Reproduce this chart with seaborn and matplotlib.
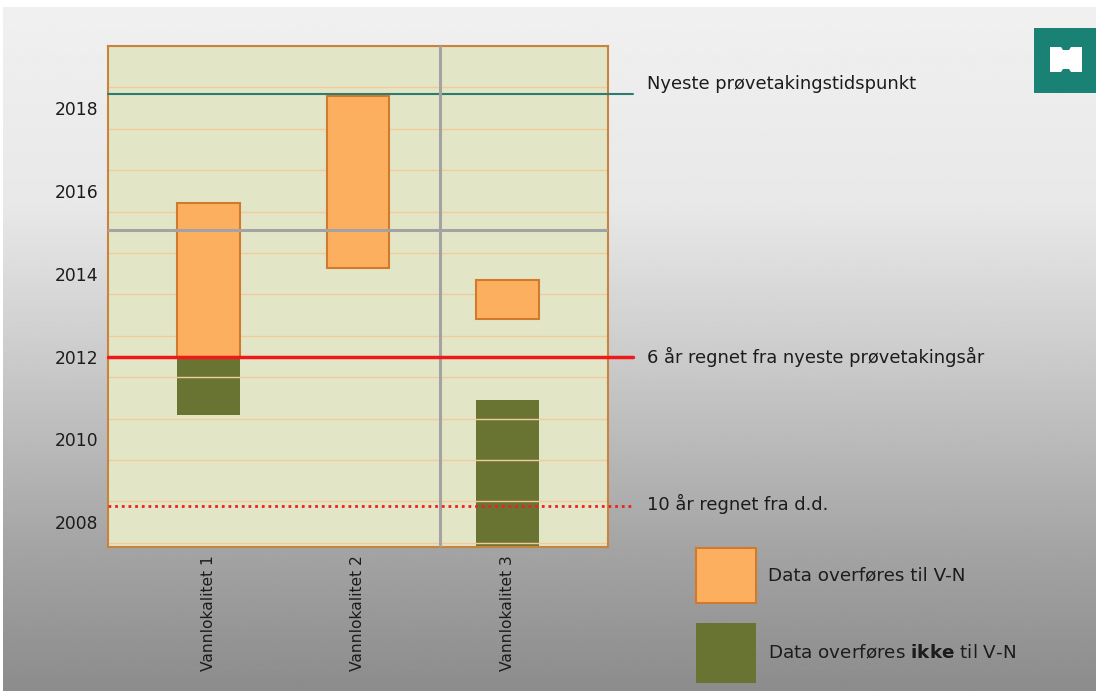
import numpy as np
import matplotlib
matplotlib.use("Agg")
import matplotlib.pyplot as plt
import matplotlib.transforms as mtransforms
from matplotlib.patches import Rectangle, Polygon
import seaborn as sns

# ---------------- data ----------------
categories = ["Vannlokalitet 1", "Vannlokalitet 2", "Vannlokalitet 3"]
transfer_start = [2012.0, 2014.15, 2012.9]
transfer_end = [2015.7, 2018.3, 2013.85]
no_transfer_cats = ["Vannlokalitet 1", "Vannlokalitet 3"]
no_transfer_start = [2010.6, 2007.0]
no_transfer_end = [2012.0, 2010.95]
latest_sample = 2018.35
six_years = 2012.0
ten_years = 2008.4
ref_year = 2015.05
ref_cat = 1.55
year_ticks = [2008, 2010, 2012, 2014, 2016, 2018]
line_labels = ["Nyeste prøvetakingstidspunkt",
               "6 år regnet fra nyeste prøvetakingsår",
               "10 år regnet fra d.d."]
legend_labels = ["Data overføres til V-N",
                 "Data overføres $\\mathbf{ikke}$ til V-N"]

ORANGE = "#FDAF60"
ORANGE_EDGE = "#D07A2E"
GREEN = "#6A7432"
TEXT = "#1C1C1C"

W, H = 1096, 691

sns.set_theme(style="white")
plt.rcParams["font.family"] = ["DejaVu Sans"]
plt.rcParams["mathtext.fontset"] = "dejavusans"

fig = plt.figure(figsize=(W / 100, H / 100), dpi=100)
fig.patch.set_facecolor("white")

# background gradient
bg = fig.add_axes([3 / W, 0, 1 - 3 / W, 1 - 7 / H], zorder=-10)
g = np.interp(np.linspace(0, 1, 400), [0, 0.29, 0.5, 0.8, 1.0],
              [240, 232, 205, 163, 140]) / 255.0
bg.imshow(np.repeat(g[:, None], 2, axis=1), cmap="gray", vmin=0, vmax=1,
          aspect="auto", interpolation="bilinear")
bg.set_axis_off()

ax = fig.add_axes([108 / W, 1 - 547 / H, 500 / W, 501 / H])
ax.set_facecolor("#E2E6C6")

sns.barplot(x=no_transfer_cats,
            y=np.subtract(no_transfer_end, no_transfer_start),
            bottom=no_transfer_start, order=categories, color=GREEN,
            saturation=1, width=0.42, linewidth=0, errorbar=None,
            ax=ax, zorder=1)
sns.barplot(x=categories,
            y=np.subtract(transfer_end, transfer_start),
            bottom=transfer_start, order=categories, color=ORANGE,
            saturation=1, width=0.42, edgecolor=ORANGE_EDGE, linewidth=1.5,
            errorbar=None, ax=ax, zorder=2)

ax.set_xlim(-0.667, 2.667)
ax.set_ylim(2007.4, 2019.5)
ax.set_yticks(year_ticks)
ax.set_yticklabels([str(y) for y in year_ticks], fontsize=12.3, color=TEXT)
ax.set_yticks(np.arange(2007.5, 2020, 1.0), minor=True)
ax.set_xticks(range(len(categories)))
ax.set_xticklabels(categories, rotation=90, fontsize=11.2, color=TEXT,
                   va="top")
ax.tick_params(which="both", length=0)
ax.tick_params(axis="y", pad=7)
ax.tick_params(axis="x", pad=6)
ax.set_axisbelow("line")
ax.grid(which="minor", axis="y", color="#F2CB9A", lw=1)
ax.grid(which="major", visible=False)
ax.set_xlabel("")
ax.set_ylabel("")
for s in ax.spines.values():
    s.set_visible(True)
    s.set_color("#C8843C")
    s.set_linewidth(1.5)

# reference lines
ax.axhline(latest_sample, xmin=0, xmax=1.05, color="#2E7B70", lw=1.5,
           clip_on=False, zorder=4)
ax.axhline(ref_year, color="#A3A3A3", lw=2.2, zorder=4)
ax.axvline(ref_cat, color="#A3A3A3", lw=2.2, zorder=4)
ax.axhline(six_years, xmin=0, xmax=1.05, color="#F01818", lw=2.5,
           clip_on=False, zorder=5)
ax.axhline(ten_years, xmin=0, xmax=1.05, color="#F02020", lw=2,
           ls=(0, (1, 1.4)), clip_on=False, zorder=5)

blend = mtransforms.blended_transform_factory(ax.transAxes, ax.transData)
for txt, yv, off in zip(line_labels, [latest_sample, six_years, ten_years],
                        [7, 0, 1.5]):
    ax.annotate(txt, xy=(1.078, yv), xycoords=blend, xytext=(0, off),
                textcoords="offset points", va="center", ha="left",
                fontsize=12.9, color=TEXT, annotation_clip=False)

# legend
def px(x, y):
    return (x / W, 1 - y / H)

fig.add_artist(Rectangle(px(696, 603), 60 / W, 55 / H, transform=fig.transFigure,
                         fc=ORANGE, ec=ORANGE_EDGE, lw=1.5))
fig.add_artist(Rectangle(px(696, 683), 60 / W, 60 / H, transform=fig.transFigure,
                         fc=GREEN, ec="none"))
fig.text(768 / W, 1 - 575 / H, legend_labels[0], fontsize=13.2,
         color=TEXT, va="center", ha="left")
fig.text(768 / W, 1 - 653 / H, legend_labels[1], fontsize=13.2,
         color=TEXT, va="center", ha="left")

# logo
fig.add_artist(Rectangle(px(1034, 93), 62 / W, 65 / H, transform=fig.transFigure,
                         fc="#1A8275", ec="none"))
logo_pts = [(1050, 47), (1061, 47), (1063, 50), (1069, 50), (1071, 47),
            (1082, 47), (1082, 72), (1071, 72), (1069, 69), (1063, 69),
            (1061, 72), (1050, 72)]
fig.add_artist(Polygon([px(x, y) for x, y in logo_pts], closed=True,
                       transform=fig.transFigure, fc="white", ec="none"))

fig.savefig("out.png", dpi=100)
